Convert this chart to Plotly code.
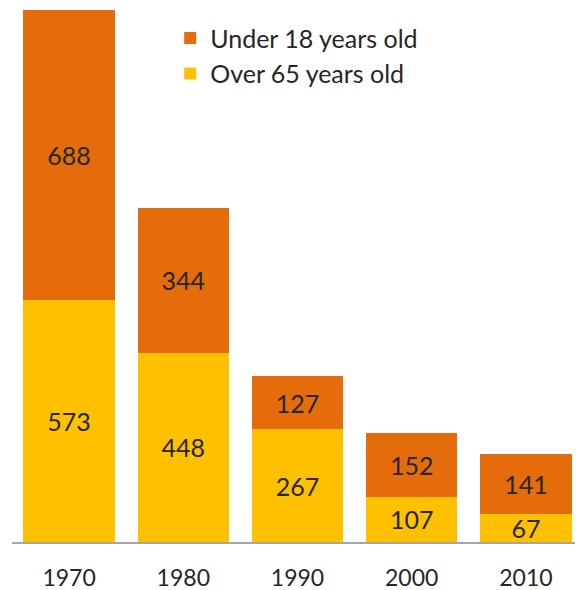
import plotly.graph_objects as go

years = ["1970", "1980", "1990", "2000", "2010"]
over65 = [573, 448, 267, 107, 67]
under18 = [688, 344, 127, 152, 141]

font_family = "Lato, 'Open Sans', sans-serif"
text_color = "#262626"

fig = go.Figure()
fig.add_trace(go.Bar(
    x=years, y=over65, name="Over 65 years old",
    marker=dict(color="#FFC000", line=dict(width=0)),
    text=over65, textposition="inside", insidetextanchor="middle",
    textangle=0, constraintext="none",
    textfont=dict(color=text_color, size=25, family=font_family),
))
fig.add_trace(go.Bar(
    x=years, y=under18, name="Under 18 years old",
    marker=dict(color="#E46C0A", line=dict(width=0)),
    text=under18, textposition="inside", insidetextanchor="middle",
    textangle=0, constraintext="none",
    textfont=dict(color=text_color, size=25, family=font_family),
))

# The page body has an 8px margin, so the figure is sized/offset for that.
fig.update_layout(
    width=575, height=582,
    barmode="stack", bargap=0.2,
    margin=dict(l=4, r=0, t=2, b=48),
    paper_bgcolor="white", plot_bgcolor="white",
    font=dict(family=font_family, color=text_color, size=22),
    showlegend=True,
    legend=dict(
        x=0.277, y=0.99, xanchor="left", yanchor="top",
        traceorder="reversed", bgcolor="rgba(0,0,0,0)",
        font=dict(size=25, color=text_color, family=font_family),
        itemwidth=30,
    ),
    xaxis=dict(
        showline=True, linecolor="#A6A6A6", linewidth=2,
        ticks="", showgrid=False, ticklabelstandoff=14,
        tickfont=dict(size=23, color=text_color),
    ),
    yaxis=dict(
        range=[0, 1261], visible=False, showgrid=False, zeroline=False,
    ),
)

fig.write_html("out.html")
